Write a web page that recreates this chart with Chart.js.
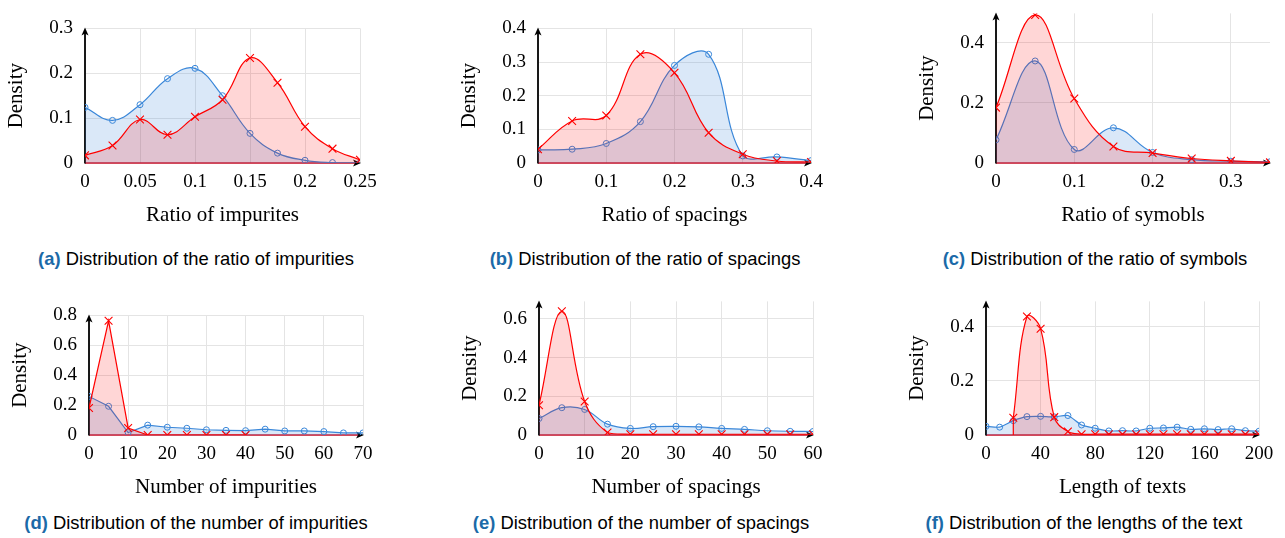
<!DOCTYPE html>
<html><head><meta charset="utf-8">
<script src="https://cdn.jsdelivr.net/npm/chart.js@4.4.1/dist/chart.umd.min.js"></script>
<style>
html,body{margin:0;padding:0;background:#fff;}
#wrap{position:relative;width:1285px;height:538px;overflow:hidden;background:#fff;}
canvas{position:absolute;}
.cap{position:absolute;transform:translateX(-50%);white-space:nowrap;font-family:'Liberation Sans',Arial,sans-serif;font-size:18.4px;color:#000;line-height:22px;}
.cap b{color:#1b6aa8;font-weight:bold;}
</style></head><body><div id="wrap"></div>
<script>
// ---------- data ----------
// (a) ratio of impurities
const aX = [0, 0.025, 0.05, 0.075, 0.1, 0.125, 0.15, 0.175, 0.2, 0.225, 0.25];
const aBlue = [0.124, 0.095, 0.130, 0.188, 0.211, 0.150, 0.066, 0.022, 0.006, 0.001, 0.0];
const aRed = [0.017, 0.039, 0.097, 0.063, 0.103, 0.141, 0.234, 0.179, 0.081, 0.032, 0.007];
const aXTicks = [0, 0.05, 0.1, 0.15, 0.2, 0.25];
const aYTicks = [0, 0.1, 0.2, 0.3];

// (b) ratio of spacings
const bX = [0, 0.05, 0.1, 0.15, 0.2, 0.25, 0.3, 0.35, 0.4];
const bBlue = [0.039, 0.041, 0.058, 0.123, 0.290, 0.323, 0.021, 0.018, 0.007];
const bRed = [0.041, 0.125, 0.141, 0.323, 0.268, 0.090, 0.026, 0.006, 0.003];
const bXTicks = [0, 0.1, 0.2, 0.3, 0.4];
const bYTicks = [0, 0.1, 0.2, 0.3, 0.4];

// (c) ratio of symbols
const cX = [0, 0.05, 0.1, 0.15, 0.2, 0.25, 0.3, 0.35];
const cBlue = [0.077, 0.339, 0.045, 0.117, 0.035, 0.011, 0.006, 0.004];
const cRed = [0.184, 0.492, 0.214, 0.055, 0.033, 0.015, 0.007, 0.002];
const cXTicks = [0, 0.1, 0.2, 0.3];
const cYTicks = [0, 0.2, 0.4];

// (d) number of impurities
const dBlueX = [0, 5, 10, 15, 20, 25, 30, 35, 40, 45, 50, 55, 60, 65, 70];
const dBlue = [0.258, 0.192, 0.016, 0.066, 0.052, 0.045, 0.035, 0.031, 0.029, 0.039, 0.027, 0.027, 0.023, 0.014, 0.014];
const dRedX = [0, 5, 10, 15, 20, 25, 30, 35, 40];
const dRed = [0.18, 0.764, 0.047, 0, 0, 0, 0, 0, 0];
const dXTicks = [0, 10, 20, 30, 40, 50, 60, 70];
const dYTicks = [0, 0.2, 0.4, 0.6, 0.8];

// (e) number of spacings
const eX = [0, 5, 10, 15, 20, 25, 30, 35, 40, 45, 50, 55, 60];
const eBlue = [0.085, 0.141, 0.132, 0.056, 0.034, 0.043, 0.045, 0.042, 0.034, 0.029, 0.022, 0.019, 0.018];
const eRed = [0.154, 0.639, 0.173, 0.013, 0.004, 0.004, 0.004, 0.004, 0.004, 0.004, 0.004, 0.004, 0.004];
const eXTicks = [0, 10, 20, 30, 40, 50, 60];
const eYTicks = [0, 0.2, 0.4, 0.6];

// (f) length of texts
const fBlueX = [0, 10, 20, 30, 40, 50, 60, 70, 80, 90, 100, 110, 120, 130, 140, 150, 160, 170, 180, 190, 200];
const fBlue = [0.032, 0.029, 0.053, 0.068, 0.069, 0.067, 0.072, 0.037, 0.025, 0.015, 0.016, 0.015, 0.025, 0.026, 0.029, 0.021, 0.023, 0.020, 0.023, 0.016, 0.014];
const fRedX = [20, 30, 40, 50, 60, 70, 80, 90, 100, 110, 120, 130, 140, 150, 160, 170, 180, 190, 200];
const fRed = [0.064, 0.438, 0.393, 0.066, 0.013, 0.003, 0.003, 0.003, 0.003, 0.003, 0.003, 0.003, 0.003, 0.003, 0.003, 0.003, 0.003, 0.003, 0.003];
const fXTicks = [0, 40, 80, 120, 160, 200];
const fYTicks = [0, 0.2, 0.4];

// ---------- styles ----------
const SERIF = "'Liberation Serif','Times New Roman',serif";
const TICK_FONT = {family: SERIF, size: 19};
const TITLE_FONT = {family: SERIF, size: 21};
const BLUE = '#3a87d9';
const BLUE_FILL = 'rgba(58,135,217,0.19)';
const RED = '#ff0000';
const RED_FILL = 'rgba(255,0,0,0.16)';
const GRID = '#e4e4e4';
const BASE = 'rgb(205,20,45)';

const wrap = document.getElementById('wrap');

function pts(xs, ys) { return xs.map((x, i) => ({x: x, y: ys[i]})); }

const decor = {
  id: 'decor',
  beforeDatasetsDraw(chart) {
    const ctx = chart.ctx, a = chart.chartArea, y = chart.scales.y;
    const y0 = y.getPixelForValue(0);
    ctx.save();
    ctx.lineWidth = 1.6;
    ctx.strokeStyle = BASE;
    ctx.beginPath(); ctx.moveTo(a.left, y0); ctx.lineTo(a.right - 4, y0); ctx.stroke();
    ctx.strokeStyle = '#000'; ctx.lineWidth = 1.8;
    ctx.beginPath(); ctx.moveTo(a.left, y0 + 0.5); ctx.lineTo(a.left, a.top + 3); ctx.stroke();
    ctx.fillStyle = '#000';
    ctx.beginPath(); ctx.moveTo(a.left, a.top - 1); ctx.lineTo(a.left - 3.5, a.top + 7);
    ctx.lineTo(a.left, a.top + 5); ctx.lineTo(a.left + 3.5, a.top + 7); ctx.closePath(); ctx.fill();
    ctx.beginPath(); ctx.moveTo(a.right + 1, y0); ctx.lineTo(a.right - 7, y0 - 3.5);
    ctx.lineTo(a.right - 5, y0); ctx.lineTo(a.right - 7, y0 + 3.5); ctx.closePath(); ctx.fill();
    ctx.restore();
  },
  afterDatasetsDraw(chart) {
    const ctx = chart.ctx, y0 = chart.scales.y.getPixelForValue(0);
    ctx.save();
    chart.data.datasets.forEach((ds, i) => {
      const f = chart.getDatasetMeta(i).data[0];
      if (!f || Math.abs(f.x - chart.chartArea.left) < 2) return;
      ctx.strokeStyle = ds.borderColor; ctx.lineWidth = ds.borderWidth;
      ctx.beginPath(); ctx.moveTo(f.x, y0); ctx.lineTo(f.x, f.y); ctx.stroke();
    });
    ctx.restore();
  }
};

function makePanel(p) {
  const YW = 85, PT = 14, XH = 70, PR = 26;
  const left = p.L - YW, top = p.T - PT;
  const w = p.R + PR - left, h = p.B + XH - top;
  const c = document.createElement('canvas');
  c.width = w; c.height = h;
  c.style.left = left + 'px'; c.style.top = top + 'px';
  c.style.width = w + 'px'; c.style.height = h + 'px';
  wrap.appendChild(c);
  new Chart(c, {
    type: 'line',
    data: {datasets: [
      {data: pts(p.bx, p.by), borderColor: BLUE, backgroundColor: BLUE_FILL, fill: 'origin',
       tension: p.bt, borderWidth: 1.2, pointStyle: 'circle', pointRadius: 3, pointBorderWidth: 1,
       pointBackgroundColor: 'rgba(0,0,0,0)', pointBorderColor: BLUE, order: 2},
      {data: pts(p.rx, p.ry), borderColor: RED, backgroundColor: RED_FILL, fill: 'origin',
       tension: p.rt, borderWidth: 1.2, pointStyle: 'crossRot', pointRadius: 5.5, pointBorderWidth: 1.1,
       pointBackgroundColor: RED, pointBorderColor: RED, order: 1}
    ]},
    options: {
      responsive: false, animation: false, devicePixelRatio: 1,
      layout: {padding: {left: 0, right: PR, top: PT, bottom: 0}},
      plugins: {legend: {display: false}, tooltip: {enabled: false}},
      scales: {
        x: {type: 'linear', min: p.xMin, max: p.xMax,
            afterBuildTicks: s => { s.ticks = p.xTicks.map(v => ({value: v})); },
            afterFit: s => { s.height = XH; },
            ticks: {font: TICK_FONT, color: '#000', padding: 8, maxRotation: 0, autoSkip: false, callback: v => String(v)},
            grid: {color: GRID, drawTicks: false, lineWidth: 1},
            border: {display: false},
            title: {display: true, text: p.xTitle, font: TITLE_FONT, color: '#000', padding: {top: 0, bottom: 5}}},
        y: {type: 'linear', min: 0, max: p.yMax,
            afterBuildTicks: s => { s.ticks = p.yTicks.map(v => ({value: v})); },
            afterFit: s => { s.width = YW; },
            ticks: {font: TICK_FONT, color: '#000', padding: 12, autoSkip: false, callback: v => String(v)},
            grid: {color: GRID, drawTicks: false, lineWidth: 1},
            border: {display: false},
            title: {display: true, text: 'Density', font: TITLE_FONT, color: '#000', padding: {top: 4, bottom: 0}}}
      }
    },
    plugins: [decor]
  });
  const cap = document.createElement('div');
  cap.className = 'cap';
  cap.style.left = p.capX + 'px';
  cap.style.top = (p.capY - 11) + 'px';
  cap.innerHTML = '<b>(' + p.letter + ')</b> ' + p.caption;
  wrap.appendChild(cap);
}

const panels = [
  {letter: 'a', L: 85, R: 360, T: 19, B: 163, xMin: 0, xMax: 0.25, yMax: 0.3,
   bx: aX, by: aBlue, bt: 0.4, rx: aX, ry: aRed, rt: 0.4, xTicks: aXTicks, yTicks: aYTicks,
   xTitle: 'Ratio of impurites', caption: 'Distribution of the ratio of impurities', capX: 196, capY: 259},
  {letter: 'b', L: 538, R: 811, T: 19, B: 163, xMin: 0, xMax: 0.4, yMax: 0.4,
   bx: bX, by: bBlue, bt: 0.4, rx: bX, ry: bRed, rt: 0.4, xTicks: bXTicks, yTicks: bYTicks,
   xTitle: 'Ratio of spacings', caption: 'Distribution of the ratio of spacings', capX: 645, capY: 259},
  {letter: 'c', L: 996, R: 1270, T: 4, B: 163, xMin: 0, xMax: 0.35, yMax: 0.497,
   bx: cX, by: cBlue, bt: 0.4, rx: cX, ry: cRed, rt: 0.4, xTicks: cXTicks, yTicks: cYTicks,
   xTitle: 'Ratio of symobls', caption: 'Distribution of the ratio of symbols', capX: 1095, capY: 259},
  {letter: 'd', L: 89, R: 363, T: 306, B: 435, xMin: 0, xMax: 70, yMax: 0.8,
   bx: dBlueX, by: dBlue, bt: 0, rx: dRedX, ry: dRed, rt: 0, xTicks: dXTicks, yTicks: dYTicks,
   xTitle: 'Number of impurities', caption: 'Distribution of the number of impurities', capX: 196, capY: 523},
  {letter: 'e', L: 539, R: 813, T: 292, B: 435, xMin: 0, xMax: 60, yMax: 0.69,
   bx: eX, by: eBlue, bt: 0.4, rx: eX, ry: eRed, rt: 0.4, xTicks: eXTicks, yTicks: eYTicks,
   xTitle: 'Number of spacings', caption: 'Distribution of the number of spacings', capX: 641, capY: 523},
  {letter: 'f', L: 986, R: 1259, T: 292, B: 435, xMin: 0, xMax: 200, yMax: 0.494,
   bx: fBlueX, by: fBlue, bt: 0.2, rx: fRedX, ry: fRed, rt: 0.4, xTicks: fXTicks, yTicks: fYTicks,
   xTitle: 'Length of texts', caption: 'Distribution of the lengths of the text', capX: 1084, capY: 523}
];

panels.forEach(makePanel);
</script>
</body></html>
